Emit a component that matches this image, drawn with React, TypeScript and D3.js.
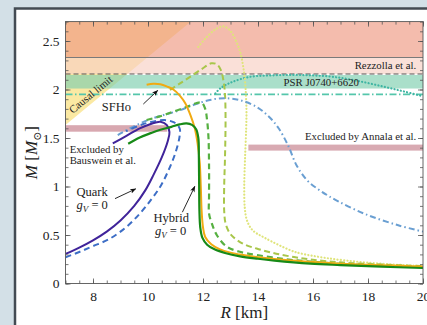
import { useEffect, useRef } from 'react';
import * as d3 from 'd3';

type Pt = [number, number];

// mass-radius curves, [R in km, M in Msun]
const quarkGv0: Pt[] = [
  [7.0, 0.305], [7.5, 0.37], [8.0, 0.445], [8.5, 0.535], [9.0, 0.65], [9.5, 0.8],
  [9.9, 0.96], [10.2, 1.12], [10.5, 1.3], [10.72, 1.47], [10.78, 1.56], [10.68, 1.635],
  [10.45, 1.668], [10.1, 1.645], [9.7, 1.6], [9.2, 1.52], [8.72, 1.445]
];
const quarkGv: Pt[] = [
  [7.0, 0.27], [7.5, 0.325], [8.0, 0.385], [8.6, 0.46], [9.2, 0.58], [9.7, 0.72],
  [10.1, 0.86], [10.45, 1.0], [10.75, 1.17], [11.0, 1.35], [11.15, 1.52], [11.15, 1.6],
  [10.95, 1.66], [10.6, 1.685], [10.1, 1.665], [9.7, 1.63], [9.2, 1.57]
];
const hybridGv0: Pt[] = [
  [9.28, 1.44], [9.7, 1.505], [10.1, 1.55], [10.45, 1.585], [10.85, 1.615], [11.15, 1.64],
  [11.4, 1.65], [11.6, 1.635], [11.75, 1.59], [11.83, 1.5], [11.85, 1.3], [11.86, 1.0],
  [11.87, 0.75], [11.9, 0.58], [11.98, 0.47], [12.15, 0.4], [12.4, 0.355], [12.8, 0.315],
  [13.35, 0.28], [14.0, 0.255], [14.6, 0.236], [15.9, 0.205], [17.0, 0.19], [18.5, 0.173],
  [20.0, 0.16]
];
const sfho: Pt[] = [
  [9.95, 2.05], [10.2, 2.06], [10.45, 2.055], [10.7, 2.03], [10.92, 2.0], [11.15, 1.94],
  [11.35, 1.86], [11.55, 1.73], [11.7, 1.6], [11.8, 1.45], [11.88, 1.25], [11.92, 1.0],
  [11.95, 0.75], [12.0, 0.58], [12.08, 0.48], [12.3, 0.405], [12.6, 0.355], [13.0, 0.318],
  [13.35, 0.298], [14.0, 0.27], [15.0, 0.242], [16.0, 0.222], [17.5, 0.198], [20.0, 0.175]
];
const hybridDashed: Pt[] = [
  [9.95, 1.685], [10.4, 1.72], [10.9, 1.77], [11.4, 1.82], [11.75, 1.858], [11.95, 1.865],
  [12.08, 1.8], [12.15, 1.68], [12.2, 1.5], [12.22, 1.2], [12.22, 0.9], [12.22, 0.72],
  [12.32, 0.62], [12.5, 0.5], [12.86, 0.38], [13.3, 0.33], [13.95, 0.294], [15.0, 0.25],
  [15.8, 0.228], [17.0, 0.203], [18.5, 0.184], [20.0, 0.168]
];
const hybridDashedLight: Pt[] = [
  [10.8, 1.995], [11.15, 2.06], [11.53, 2.13], [11.95, 2.21], [12.3, 2.27], [12.5, 2.26],
  [12.65, 2.2], [12.75, 2.08], [12.8, 1.95], [12.82, 1.7], [12.8, 1.3], [12.77, 1.0],
  [12.77, 0.75], [12.82, 0.62], [12.95, 0.53], [13.1, 0.48], [13.45, 0.41], [13.95, 0.36],
  [14.5, 0.318], [15.16, 0.28], [15.9, 0.248], [17.0, 0.218], [18.5, 0.196], [20.0, 0.18]
];
const hybridDotted: Pt[] = [
  [11.83, 2.44], [12.1, 2.53], [12.45, 2.62], [12.74, 2.65], [12.98, 2.61], [13.2, 2.5],
  [13.35, 2.39], [13.47, 2.22], [13.53, 2.08], [13.58, 1.8], [13.57, 1.6], [13.53, 1.3],
  [13.5, 1.0], [13.52, 0.78], [13.6, 0.65], [13.8, 0.55], [14.25, 0.47], [15.2, 0.34],
  [15.55, 0.31], [16.5, 0.262], [17.95, 0.215], [20.0, 0.178]
];
const stiffDashDot: Pt[] = [
  [8.9, 1.53], [9.45, 1.615], [10.05, 1.69], [10.6, 1.74], [11.15, 1.785], [11.75, 1.85],
  [12.3, 1.895], [12.8, 1.91], [13.35, 1.89], [13.95, 1.82], [14.4, 1.72], [14.75, 1.6],
  [15.1, 1.42], [15.4, 1.22], [15.8, 1.06], [16.3, 0.95], [16.9, 0.85], [17.95, 0.71],
  [19.1, 0.6], [20.0, 0.535]
];
const tealDotted: Pt[] = [
  [12.45, 1.96], [12.62, 2.01], [13.0, 2.07], [13.7, 2.13], [14.44, 2.145], [15.28, 2.15],
  [16.0, 2.145], [16.74, 2.13], [17.6, 2.09], [18.56, 2.03], [19.3, 1.98], [20.0, 1.93]
];

const xTicks = [8, 10, 12, 14, 16, 18, 20];
const yTicks = [0, 0.5, 1, 1.5, 2, 2.5];

// constraints
const upperLimit = 2.33;
const rezzollaLimit = 2.16;
const psrBand = [2.01, 2.15];
const psrLine = 1.95;
const causalFactor = 4.282; // M = R / factor
const bausweinR = [7, 10.7];
const bausweinM = [1.565, 1.632];
const annalaR = [13.65, 20];
const annalaM = [1.37, 1.432];

const width = 427;
const height = 325;
const margin = { top: 21.6, right: 4, bottom: 41.5, left: 65.5 };
const font = "'Liberation Serif', 'DejaVu Serif', serif";

export default function App() {
  const ref = useRef<SVGSVGElement>(null);

  useEffect(() => {
    const svg = d3.select(ref.current);
    svg.selectAll('*').remove();

    const x = d3.scaleLinear().domain([7, 20]).range([margin.left, width - margin.right]);
    const y = d3.scaleLinear().domain([0, 2.7]).range([height - margin.bottom, margin.top]);
    const [x0, x1] = x.range();
    const [y0, y1] = y.range();

    svg.append('rect').attr('width', width).attr('height', height).attr('fill', '#d3e0e7');
    svg
      .append('rect')
      .attr('x', 15)
      .attr('y', 8.5)
      .attr('width', width)
      .attr('height', height)
      .attr('fill', '#fff')
      .attr('stroke', '#434b53')
      .attr('stroke-width', 2.5);

    const defs = svg.append('defs');
    defs
      .append('clipPath')
      .attr('id', 'plot-clip')
      .append('rect')
      .attr('x', x0)
      .attr('y', y1)
      .attr('width', x1 - x0)
      .attr('height', y0 - y1);
    defs
      .append('marker')
      .attr('id', 'arrow')
      .attr('viewBox', '0 0 8 8')
      .attr('refX', 7)
      .attr('refY', 4)
      .attr('markerWidth', 7)
      .attr('markerHeight', 7)
      .attr('orient', 'auto')
      .append('path')
      .attr('d', 'M0,1 L8,4 L0,7 L2,4 Z')
      .attr('fill', '#111');

    const plot = svg.append('g').attr('clip-path', 'url(#plot-clip)');

    // causal limit region (opaque), the bands go over it semi-transparent
    const causalPts: Pt[] = [
      [7, 7 / causalFactor],
      [2.7 * causalFactor, 2.7],
      [7, 2.7]
    ];
    plot
      .append('path')
      .attr('d', d3.line()(causalPts.map((p) => [x(p[0]), y(p[1])]))! + 'Z')
      .attr('fill', '#fbe9a3');

    const band = (mLo: number, mHi: number, fill: string) =>
      plot
        .append('rect')
        .attr('x', x0)
        .attr('width', x1 - x0)
        .attr('y', y(mHi))
        .attr('height', y(mLo) - y(mHi))
        .attr('fill', fill)
        .attr('fill-opacity', 0.65);
    band(upperLimit, 2.7, '#ee9881');
    band(rezzollaLimit, upperLimit, '#f7cfc3');
    band(psrBand[0], psrBand[1], '#7ccead');

    plot
      .append('line')
      .attr('x1', x0)
      .attr('x2', x1)
      .attr('y1', y(upperLimit))
      .attr('y2', y(upperLimit))
      .attr('stroke', '#7a7a7a')
      .attr('stroke-width', 1.1);
    plot
      .append('line')
      .attr('x1', x0)
      .attr('x2', x1)
      .attr('y1', y(rezzollaLimit))
      .attr('y2', y(rezzollaLimit))
      .attr('stroke', '#555')
      .attr('stroke-width', 1.1)
      .attr('stroke-dasharray', '5,3');
    plot
      .append('line')
      .attr('x1', x0)
      .attr('x2', x1)
      .attr('y1', y(psrLine))
      .attr('y2', y(psrLine))
      .attr('stroke', '#55c6ab')
      .attr('stroke-width', 1.6)
      .attr('stroke-dasharray', '7,2.5,1.5,2.5');

    plot
      .append('rect')
      .attr('x', x(bausweinR[0]))
      .attr('width', x(bausweinR[1]) - x(bausweinR[0]))
      .attr('y', y(bausweinM[1]))
      .attr('height', y(bausweinM[0]) - y(bausweinM[1]))
      .attr('fill', '#d8a8b0');
    plot
      .append('rect')
      .attr('x', x(annalaR[0]))
      .attr('width', x(annalaR[1]) - x(annalaR[0]))
      .attr('y', y(annalaM[1]))
      .attr('height', y(annalaM[0]) - y(annalaM[1]))
      .attr('fill', '#d8aab2');

    // curves
    const lineGen = d3
      .line<Pt>()
      .x((d) => x(d[0]))
      .y((d) => y(d[1]))
      .curve(d3.curveCatmullRom.alpha(0.5));
    const curves: { data: Pt[]; color: string; dash: string | null; cap: string; w: number }[] = [
      { data: tealDotted, color: '#3fb5a3', dash: '0.1,3.2', cap: 'round', w: 2.2 },
      { data: hybridDotted, color: '#dfe47a', dash: '0.1,3.2', cap: 'round', w: 2.2 },
      { data: hybridDashedLight, color: '#a8c64a', dash: '6,3.5', cap: 'butt', w: 2 },
      { data: stiffDashDot, color: '#6a9fd2', dash: '6,3,1.5,3', cap: 'butt', w: 2 },
      { data: quarkGv, color: '#3d6ec6', dash: '6,4', cap: 'butt', w: 2 },
      { data: quarkGv0, color: '#40249a', dash: null, cap: 'butt', w: 2 },
      { data: hybridDashed, color: '#56b041', dash: '6,4', cap: 'butt', w: 2.2 },
      { data: sfho, color: '#f1aa12', dash: null, cap: 'butt', w: 2 },
      { data: hybridGv0, color: '#178a17', dash: null, cap: 'butt', w: 2.2 }
    ];
    curves.forEach((c) => {
      plot
        .append('path')
        .attr('d', lineGen(c.data))
        .attr('fill', 'none')
        .attr('stroke', c.color)
        .attr('stroke-width', c.w)
        .attr('stroke-linecap', c.cap)
        .attr('stroke-dasharray', c.dash);
    });

    // axes
    const styleAxis = (g: d3.Selection<SVGGElement, unknown, null, undefined>) => {
      g.select('.domain').remove();
      g.selectAll('.tick line').attr('stroke', '#555').attr('stroke-width', 0.8);
      g.selectAll('text').attr('fill', '#222');
      g.attr('font-family', font).attr('font-size', 13.5);
    };
    const minorX = d3.range(7, 20.01, 0.5);
    const minorY = d3.range(0, 2.71, 0.1);
    const axes = svg.append('g');
    axes
      .append('g')
      .attr('transform', `translate(0,${y0})`)
      .call(d3.axisBottom(x).tickValues(minorX).tickSize(-3).tickFormat(() => ''))
      .call(styleAxis);
    axes
      .append('g')
      .attr('transform', `translate(0,${y0})`)
      .call(d3.axisBottom(x).tickValues(xTicks).tickSize(-5).tickPadding(8).tickFormat(d3.format('d')))
      .call(styleAxis);
    axes
      .append('g')
      .attr('transform', `translate(0,${y1})`)
      .call(d3.axisTop(x).tickValues(minorX).tickSize(-3).tickFormat(() => ''))
      .call(styleAxis);
    axes
      .append('g')
      .attr('transform', `translate(0,${y1})`)
      .call(d3.axisTop(x).tickValues(xTicks).tickSize(-5).tickFormat(() => ''))
      .call(styleAxis);
    axes
      .append('g')
      .attr('transform', `translate(${x0},0)`)
      .call(d3.axisLeft(y).tickValues(minorY).tickSize(-3).tickFormat(() => ''))
      .call(styleAxis);
    axes
      .append('g')
      .attr('transform', `translate(${x0},0)`)
      .call(d3.axisLeft(y).tickValues(yTicks).tickSize(-5).tickPadding(6).tickFormat((d) => `${d}`))
      .call(styleAxis);
    axes
      .append('g')
      .attr('transform', `translate(${x1},0)`)
      .call(d3.axisRight(y).tickValues(minorY).tickSize(-3).tickFormat(() => ''))
      .call(styleAxis);
    axes
      .append('g')
      .attr('transform', `translate(${x1},0)`)
      .call(d3.axisRight(y).tickValues(yTicks).tickSize(-5).tickFormat(() => ''))
      .call(styleAxis);
    axes
      .append('rect')
      .attr('x', x0)
      .attr('y', y1)
      .attr('width', x1 - x0)
      .attr('height', y0 - y1)
      .attr('fill', 'none')
      .attr('stroke', '#555')
      .attr('stroke-width', 0.9);

    // axis titles
    const xTitle = svg
      .append('text')
      .attr('x', x(13.5))
      .attr('y', 318)
      .attr('text-anchor', 'middle')
      .attr('font-family', font)
      .attr('font-size', 17)
      .attr('fill', '#222');
    xTitle.append('tspan').attr('font-style', 'italic').text('R');
    xTitle.append('tspan').text(' [km]');

    const yTitle = svg
      .append('text')
      .attr('transform', `translate(37,${(y0 + y1) / 2}) rotate(-90)`)
      .attr('text-anchor', 'middle')
      .attr('font-family', font)
      .attr('font-size', 17)
      .attr('fill', '#222');
    yTitle.append('tspan').attr('font-style', 'italic').text('M');
    yTitle.append('tspan').text(' [');
    yTitle.append('tspan').attr('font-style', 'italic').text('M');
    yTitle.append('tspan').attr('font-size', 11).attr('dy', 4).text('⊙');
    yTitle.append('tspan').attr('dy', -4).text(']');

    // annotations
    const label = (px: number, py: number, str: string, size: number, anchor = 'start') =>
      svg
        .append('text')
        .attr('x', px)
        .attr('y', py)
        .attr('text-anchor', anchor)
        .attr('font-family', font)
        .attr('font-size', size)
        .attr('fill', '#222')
        .text(str);

    label(x(19.75), y(rezzollaLimit) - 4.5, 'Rezzolla et al.', 10.8, 'end');
    label(x(16.3), y(psrBand[0]) - 3, 'PSR J0740+6620', 10.8, 'middle');
    label(x(19.75), y(annalaM[1]) - 5, 'Excluded by Annala et al.', 10.8, 'end');
    label(x(7.15), y(1.345), 'Excluded by', 10.8);
    label(x(7.15), y(1.235), 'Bauswein et al.', 10.8);
    label(x(8.85), y(1.78), 'SFHo', 12.5, 'middle');
    label(x(7.4), y(0.905), 'Quark', 12.5);
    label(x(10.2), y(0.635), 'Hybrid', 12.5);

    const gv = (px: number, py: number) => {
      const t = svg
        .append('text')
        .attr('x', px)
        .attr('y', py)
        .attr('font-family', font)
        .attr('font-size', 12.5)
        .attr('fill', '#222');
      t.append('tspan').attr('font-style', 'italic').text('g');
      t.append('tspan').attr('font-style', 'italic').attr('font-size', 9).attr('dy', 3).text('V');
      t.append('tspan').attr('dy', -3).text(' = 0');
    };
    gv(x(7.4), y(0.765));
    gv(x(10.25), y(0.5));

    svg
      .append('text')
      .attr('transform', `translate(${x(8.0)},${y(1.92)}) rotate(-39.5)`)
      .attr('text-anchor', 'middle')
      .attr('font-family', font)
      .attr('font-size', 10.8)
      .attr('fill', '#222')
      .text('Causal limit');

    const arrow = (from: Pt, to: Pt) =>
      svg
        .append('line')
        .attr('x1', x(from[0]))
        .attr('y1', y(from[1]))
        .attr('x2', x(to[0]))
        .attr('y2', y(to[1]))
        .attr('stroke', '#111')
        .attr('stroke-width', 0.9)
        .attr('marker-end', 'url(#arrow)');
    arrow([9.83, 1.85], [10.35, 1.99]);
    arrow([8.8, 0.875], [9.55, 0.975]);
    arrow([11.25, 0.735], [11.7, 1.0]);
  }, []);

  return (
    <svg
      ref={ref}
      width={width}
      height={height}
      style={{ position: 'fixed', left: 0, top: 0, display: 'block' }}
    />
  );
}
